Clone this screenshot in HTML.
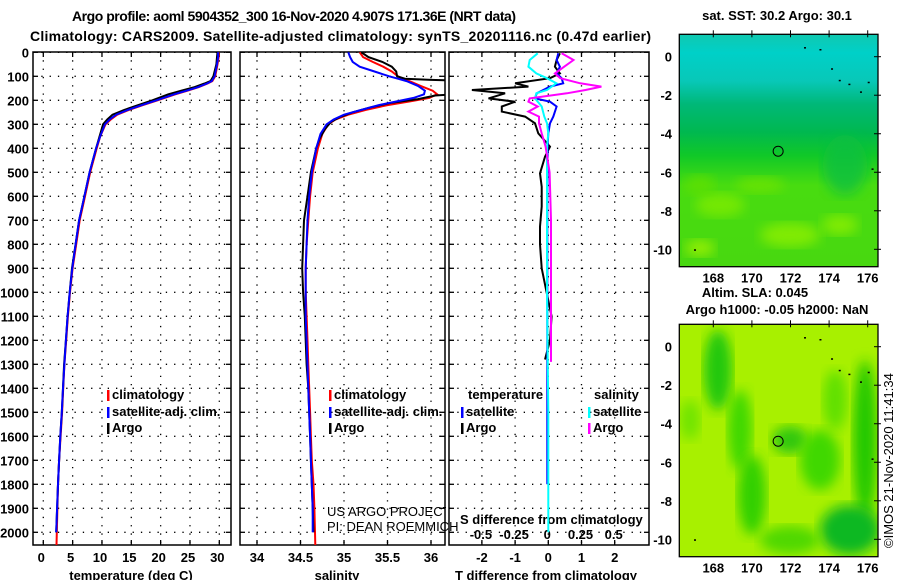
<!DOCTYPE html>
<html><head><meta charset="utf-8"><style>
body{margin:0;background:#fff;width:900px;height:580px;overflow:hidden}
svg{display:block;font-family:"Liberation Sans",sans-serif}
.b{font-weight:bold;font-size:13px}
</style></head><body>
<svg id="fig" width="900" height="580" viewBox="0 0 900 580" xmlns="http://www.w3.org/2000/svg">
<defs>
<clipPath id="c1"><rect x="33" y="52" width="198" height="493"/></clipPath>
<clipPath id="c2"><rect x="240" y="52" width="205" height="493"/></clipPath>
<clipPath id="c3"><rect x="449" y="52" width="200" height="493"/></clipPath>
<clipPath id="c2t"><rect x="240" y="490" width="206" height="50"/></clipPath>
<linearGradient id="sst" x1="0" y1="0" x2="0" y2="1">
<stop offset="0" stop-color="#10c8b0"/><stop offset="0.08" stop-color="#00d0c8"/><stop offset="0.2" stop-color="#08c8b8"/>
<stop offset="0.3" stop-color="#00b878"/><stop offset="0.42" stop-color="#00b850"/><stop offset="0.52" stop-color="#10c828"/>
<stop offset="0.65" stop-color="#48dc10"/><stop offset="1" stop-color="#48d810"/></linearGradient>
<filter id="bl"><feGaussianBlur stdDeviation="6"/></filter>
</defs>
<text x="72" y="21" font-size="14" font-weight="bold" textLength="444">Argo profile: aoml 5904352_300 16-Nov-2020 4.907S 171.36E (NRT data)</text>
<text x="30" y="41" font-size="14" font-weight="bold" textLength="621">Climatology: CARS2009. Satellite-adjusted climatology: synTS_20201116.nc (0.47d earlier)</text>
<g id="g"></g>
</svg>
<script>
// ---- data ----
const tDepth=[0,20,50,100,120,130,145,160,175,200,220,240,260,280,300,350,400,500,600,700,800,900,1000,1100,1200,1300,1400,1500,1600,1700,1800,1900,2000];
const tClim=[29.9,29.9,29.7,29.3,28.8,28.0,26.5,24.6,22.5,19.5,17.0,14.6,12.6,11.5,10.6,9.7,9.1,8.0,7.1,6.2,5.6,5.0,4.55,4.2,3.9,3.6,3.4,3.2,2.95,2.7,2.5,2.4,2.25];
const tSat=[29.8,29.8,29.6,29.2,28.7,27.9,26.4,24.4,22.3,19.3,16.8,14.4,12.4,11.3,10.5,9.7,9.0,7.9,7.0,6.1,5.5,4.95,4.5,4.15,3.85,3.6,3.35,3.15,2.9,2.7,2.5,2.35,2.2];
const tArgo=[29.7,29.6,29.5,29.0,28.5,27.5,25.8,23.5,21.3,18.6,16.2,13.8,11.8,10.9,10.2,9.6,9.0,7.9,7.0,6.1,5.5,4.9,4.5,4.15,3.85,3.55,3.35,3.15,2.9,2.7,2.5,2.35,2.2];
const sDepth=[0,20,40,60,80,100,110,120,140,160,175,190,205,220,240,260,280,300,340,400,500,600,700,800,900,1000,1100,1200,1300,1400,1500,1600,1700,1800,1900,2000];
const sClim=[35.18,35.22,35.33,35.45,35.55,35.62,35.68,35.75,35.88,36.02,36.07,35.98,35.75,35.5,35.25,35.05,34.9,34.82,34.75,34.7,34.64,34.61,34.59,34.57,34.56,34.56,34.57,34.58,34.59,34.6,34.61,34.62,34.63,34.65,34.66,34.67];
const sSat=[35.05,35.07,35.1,35.18,35.35,35.52,35.62,35.72,35.85,35.93,35.92,35.8,35.6,35.4,35.2,35.0,34.88,34.8,34.73,34.68,34.63,34.6,34.58,34.57,34.56,34.56,34.56,34.57,34.58,34.59,34.6,34.61,34.62,34.63,34.64,34.64];
const aDepth=[0,20,40,60,80,100,110,115,120,170,180,195,210,230,250,270,290,320,360,400,500,600,700,800,900,1000,1100,1200,1300,1400,1500,1600,1700,1800,1900,2000];
const sArgo=[35.2,35.28,35.44,35.55,35.6,35.61,35.7,36.0,36.5,36.5,36.05,35.85,35.55,35.3,35.1,34.95,34.85,34.78,34.72,34.68,34.62,34.58,34.54,34.53,34.52,34.53,34.55,34.56,34.57,34.59,34.6,34.61,34.62,34.63,34.64,34.65];
const dDepth=[4,32,60,88,108,129,143,157,171,192,206,226,247,268,296,338,393,435,504,560,643,726,800,900,1000,1100,1200,1280];
const dTArgo=[0.35,0.25,0.2,0.35,0.05,-1.0,-0.6,-2.3,-1.3,-1.8,-1.0,-1.4,-1.4,-0.7,-0.4,-0.3,0.05,-0.1,-0.25,-0.2,-0.2,-0.25,-0.25,-0.2,-0.05,0.1,0.05,-0.1];
const sdDepth=[4,32,60,88,108,129,143,157,171,192,206,226,247,268,296,338,393,500,700,900,1100,1290];
const dSArgo=[0.1,0.19,0.12,0.05,0.09,0.24,0.4,0.28,0.14,-0.14,-0.15,-0.08,-0.15,-0.07,-0.07,-0.05,-0.02,0.01,0.02,0.02,0.02,0.02];
const bDepth=[4,32,60,88,108,129,143,157,171,192,206,226,268,296,338,393,600,1000,1400,1800];
const dTSat=[0.3,0.25,0.35,0.25,0.4,0.45,0.05,-0.15,-0.35,-0.4,0.05,0.25,0.15,0.05,0.0,-0.02,-0.03,-0.03,-0.03,-0.03];
const cDepth=[4,32,60,88,108,129,157,171,192,226,268,296,338,393,600,1000,1500,2000];
const dSSat=[-0.08,-0.14,-0.15,-0.09,-0.01,0.06,-0.01,-0.09,-0.1,-0.05,-0.03,-0.01,0.0,-0.01,-0.01,-0.01,0.0,0.0];
const depthTicks=[0,100,200,300,400,500,600,700,800,900,1000,1100,1200,1300,1400,1500,1600,1700,1800,1900,2000];
const tTicks=[0,5,10,15,20,25,30];
const sTicks=[34,34.5,35,35.5,36];
const sTickLbl=["34","34.5","35","35.5","36"];
const dtTicks=[-2,-1,0,1,2];
const dsTickLbl=["-0.5","-0.25","0","0.25","0.5"];
const latTicks=[0,-2,-4,-6,-8,-10];
const lonTicks=[168,170,172,174,176];
const argoLon=171.36, argoLat=-4.907;
// ---- scales ----
const yD=d=>52.3+d*0.24;
const xT=t=>43.3+t*5.867;
const xS=s=>257+(s-34)*87;
const xDT=t=>548.3+t*33.2;
const xDS=s=>xDT(s*4);
const NS="http://www.w3.org/2000/svg";
const G=document.getElementById('g');
function el(tag,at,par){const e=document.createElementNS(NS,tag);for(const k in at)e.setAttribute(k,at[k]);(par||G).appendChild(e);return e;}
function txt(x,y,s,anchor,par,extra){const e=el('text',Object.assign({x:x,y:y,'text-anchor':anchor||'start',class:'b'},extra||{}),par);e.textContent=s;return e;}
function line(xs,ys,col,clip,name){const p=xs.map((x,i)=>x.toFixed(1)+','+ys[i].toFixed(1)).join(' ');const e=el('polyline',{points:p,fill:'none',stroke:col,'stroke-width':2,'clip-path':'url(#'+clip+')'});

return e;}
// panels
const panels=[[33,231,'c1','temperature-panel'],[240,445,'c2','salinity-panel'],[449,649,'c3','difference-panel']];
const vgrid=[tTicks.map(xT),sTicks.map(xS),dtTicks.map(xDT)];
panels.forEach((p,i)=>{
  const g=el('g',{});
  
  
  depthTicks.forEach(d=>{const y=yD(d);el('line',{x1:p[0],x2:p[1],y1:y,y2:y,stroke:'#000','stroke-width':1.3,'stroke-dasharray':'1.3 7'},g);
    el('line',{x1:p[0],x2:p[0]+5,y1:y,y2:y,stroke:'#000','stroke-width':1.3},g);el('line',{x1:p[1]-5,x2:p[1],y1:y,y2:y,stroke:'#000','stroke-width':1.3},g);});
  vgrid[i].forEach(x=>{el('line',{x1:x,x2:x,y1:52,y2:545,stroke:'#000','stroke-width':1.3,'stroke-dasharray':'1.3 7'},g);
    el('line',{x1:x,x2:x,y1:52,y2:57,stroke:'#000','stroke-width':1.3},g);el('line',{x1:x,x2:x,y1:540,y2:545,stroke:'#000','stroke-width':1.3},g);});
  el('rect',{x:p[0],y:52,width:p[1]-p[0],height:493,fill:'none',stroke:'#000','stroke-width':1.5},g);
});
depthTicks.forEach(d=>{const e=txt(29,yD(d)+5,String(d),'end');

});
tTicks.forEach(t=>{const e=txt(xT(t)-2,562,String(t),'middle');

});
sTicks.forEach((s,i)=>{const e=txt(xS(s),562,sTickLbl[i],'middle');

});
dtTicks.forEach(t=>{const e=txt(xDT(t),562,String(t),'middle');

});
dtTicks.forEach((t,i)=>{const e=txt(xDT(t)-1,539,dsTickLbl[i],'middle');

});
let e;
e=txt(131,580,'temperature (deg C)','middle');
e=txt(337,580,'salinity','middle');
e=txt(546,580,'T difference from climatology','middle');
e=txt(460,524,'S difference from climatology','start');
e=el('text',{x:327,y:516,'font-size':13,'clip-path':'url(#c2t)'});e.textContent='US ARGO PROJECT';
e=el('text',{x:327,y:531,'font-size':13});e.textContent='PI: DEAN ROEMMICH';
// series
line(tClim.map(xT),tDepth.map(yD).map((y,i)=>i==tDepth.length-1?545:y),'#f00','c1','temp-climatology-line');
line(tArgo.map(xT),tDepth.map(yD),'#000','c1','temp-argo-line');
line(tSat.map(xT),tDepth.map(yD),'#00f','c1','temp-satellite-line');
line(sClim.map(xS),sDepth.map((d,i)=>i==sDepth.length-1?545:yD(d)),'#f00','c2','sal-climatology-line');
line(sArgo.map(xS),aDepth.map(yD),'#000','c2','sal-argo-line');
line(sSat.map(xS),sDepth.map(yD),'#00f','c2','sal-satellite-line');
line(dTArgo.map(xDT),dDepth.map(yD),'#000','c3','tdiff-argo-line');
line(dTSat.map(xDT),bDepth.map(yD),'#00f','c3','tdiff-satellite-line');
line(dSSat.map(xDS),cDepth.map(yD),'#0ff','c3','sdiff-satellite-line');
line(dSArgo.map(xDS),sdDepth.map(yD),'#f0f','c3','sdiff-argo-line');
// legends
function leg(x,y,col,label,name){const g=el('g',{});
 el('rect',{x:x,y:y-9,width:2.5,height:11,fill:col},g);txt(x+5,y,label,'start',g);}
leg(107,399,'#f00','climatology','legend-climatology-temp');
leg(107,416,'#00f','satellite-adj. clim.','legend-satellite-temp');
leg(107,432,'#000','Argo','legend-argo-temp');
leg(329,399,'#f00','climatology','legend-climatology-sal');
leg(329,416,'#00f','satellite-adj. clim.','legend-satellite-sal');
leg(329,432,'#000','Argo','legend-argo-sal');
e=txt(468,399,'temperature');
e=txt(594,399,'salinity');
leg(461,416,'#00f','satellite','legend-tdiff-satellite');
leg(461,432,'#000','Argo','legend-tdiff-argo');
leg(588,416,'#0ff','satellite','legend-sdiff-satellite');
leg(588,432,'#f0f','Argo','legend-sdiff-argo');
// maps
function mapPanel(top,name,fillFn,title,tY){
 const L=679.3,R=878,B=top+232.4;
 const xL=lon=>713.3+(lon-168)*19.3, yL=lat=>top+22.4-lat*19.26;
 const g=el('g',{});
 const cp=el('clipPath',{id:name+'-clip'},g);el('rect',{x:L,y:top,width:R-L,height:B-top},cp);
 const inner=el('g',{'clip-path':'url(#'+name+'-clip)'},g);
 fillFn(inner,L,top,R-L,B-top);
 [[167,-10],[172.7,0.5],[173.5,0.4],[174.1,-0.6],[174.5,-1.2],[175,-1.4],[175.6,-1.8],[176,-1.3],[176.2,-5.8]].forEach(c=>el('rect',{x:xL(c[0]),y:yL(c[1]),width:2,height:1.5,fill:'#000'},inner));
 el('rect',{x:L,y:top,width:R-L,height:B-top,fill:'none',stroke:'#000','stroke-width':1.3},g);
 latTicks.forEach(l=>{el('line',{x1:R-4,x2:R+3,y1:yL(l),y2:yL(l),stroke:'#000'},g);txt(672,yL(l)+5,String(l),'end',g);});
 lonTicks.forEach(l=>{el('line',{x1:xL(l),x2:xL(l),y1:top-4,y2:top+3,stroke:'#000'},g);txt(xL(l),B+16,String(l),'middle',g);});
 const c=el('circle',{cx:xL(argoLon),cy:yL(argoLat),r:5,fill:'none',stroke:'#000','stroke-width':1},g);
 
 
 const t=txt(777,tY,title,'middle',g);
}
mapPanel(34.3,'sst-map',(g,x,y,w,h)=>{
 el('rect',{x:x,y:y,width:w,height:h,fill:'url(#sst)'},g);
 [[720,205,25,12,'#80ec00'],[790,235,30,12,'#90f000'],[840,225,18,10,'#90f000'],[700,248,15,8,'#a8f400'],[760,185,25,8,'#70e400'],[700,185,15,10,'#60e000'],[845,165,22,30,'#10c040']].forEach(b=>el('ellipse',{cx:b[0],cy:b[1],rx:b[2],ry:b[3],fill:b[4],filter:'url(#bl)',opacity:0.8},g));
},'sat. SST: 30.2 Argo: 30.1',20);
mapPanel(324.3,'sla-map',(g,x,y,w,h)=>{
 el('rect',{x:x,y:y,width:w,height:h,fill:'#a8f000'},g);
 [[718,370,14,40,'#20c810'],[740,430,12,40,'#40d800'],[752,495,14,40,'#30d000'],[790,440,18,14,'#30c810'],[835,400,12,30,'#60e000'],[865,440,12,80,'#20c800'],[850,530,30,25,'#10b820'],[790,540,30,14,'#50d800'],[690,420,10,20,'#70e400'],[820,460,20,30,'#40d800']].forEach(b=>el('ellipse',{cx:b[0],cy:b[1],rx:b[2],ry:b[3],fill:b[4],filter:'url(#bl)'},g));
},'Argo h1000: -0.05 h2000: NaN',314);
e=txt(755,297,'Altim. SLA: 0.045','middle');
e=el('text',{x:0,y:0,'font-size':13,transform:'translate(893,548) rotate(-90)'});e.textContent='©IMOS 21-Nov-2020 11:41:34';

</script>
</body></html>
